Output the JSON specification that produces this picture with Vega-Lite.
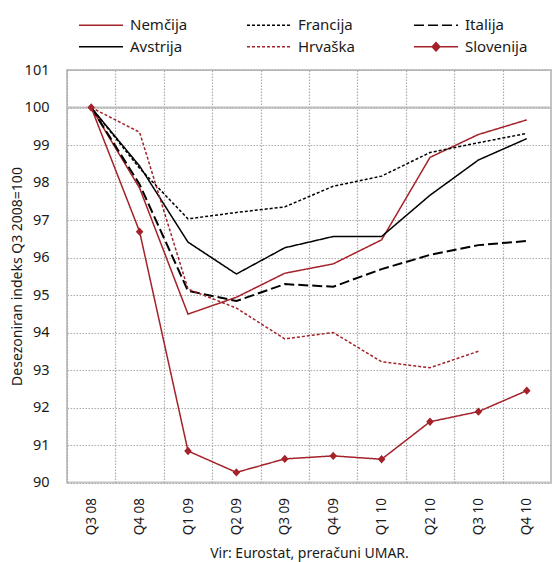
{
  "$schema": "https://vega.github.io/schema/vega-lite/v6.json",
  "width": 484,
  "height": 412.5,
  "autosize": {"type": "none"},
  "padding": {"left": 67, "top": 70, "right": 4, "bottom": 79.5},
  "background": "white",
  "config": {
    "font": "Noto Sans",
    "view": {"stroke": "#c3c3c3", "strokeWidth": 2},
    "axis": {
      "grid": true,
      "gridColor": "#ababab",
      "gridDash": [1.5, 1.5],
      "gridWidth": 1.2,
      "gridOpacity": 1,
      "domain": false,
      "ticks": false,
      "labelColor": "#1a1a1a",
      "titleColor": "#1a1a1a",
      "titleFontWeight": "normal",
      "titleFontSize": 14
    },
    "axisX": {
      "labelAngle": -90,
      "labelPadding": 15,
      "tickOffset": -24.2,
      "labelOffset": 24.2,
      "labelFontSize": 13.5,
      "titleX": 242,
      "titleY": 75,
      "titleBaseline": "alphabetic"
    },
    "axisY": {
      "labelOverlap": false,
      "labelPadding": 18,
      "labelFontSize": 14.5,
      "titleX": -50,
      "titleY": 206,
      "titleAlign": "center",
      "titleBaseline": "middle",
      "titleAngle": -90
    }
  },
  "data": {
    "values": [
      {"q": "Q3 08", "series": "Nemčija", "v": 100},
      {"q": "Q4 08", "series": "Nemčija", "v": 97.85},
      {"q": "Q1 09", "series": "Nemčija", "v": 94.49},
      {"q": "Q2 09", "series": "Nemčija", "v": 94.94},
      {"q": "Q3 09", "series": "Nemčija", "v": 95.58},
      {"q": "Q4 09", "series": "Nemčija", "v": 95.83},
      {"q": "Q1 10", "series": "Nemčija", "v": 96.47},
      {"q": "Q2 10", "series": "Nemčija", "v": 98.67},
      {"q": "Q3 10", "series": "Nemčija", "v": 99.28},
      {"q": "Q4 10", "series": "Nemčija", "v": 99.67},
      {"q": "Q3 08", "series": "Francija", "v": 100},
      {"q": "Q4 08", "series": "Francija", "v": 98.38},
      {"q": "Q1 09", "series": "Francija", "v": 97.03},
      {"q": "Q2 09", "series": "Francija", "v": 97.2},
      {"q": "Q3 09", "series": "Francija", "v": 97.35},
      {"q": "Q4 09", "series": "Francija", "v": 97.9},
      {"q": "Q1 10", "series": "Francija", "v": 98.17},
      {"q": "Q2 10", "series": "Francija", "v": 98.8},
      {"q": "Q3 10", "series": "Francija", "v": 99.06},
      {"q": "Q4 10", "series": "Francija", "v": 99.31},
      {"q": "Q3 08", "series": "Italija", "v": 100},
      {"q": "Q4 08", "series": "Italija", "v": 97.95},
      {"q": "Q1 09", "series": "Italija", "v": 95.11},
      {"q": "Q2 09", "series": "Italija", "v": 94.84},
      {"q": "Q3 09", "series": "Italija", "v": 95.29},
      {"q": "Q4 09", "series": "Italija", "v": 95.22},
      {"q": "Q1 10", "series": "Italija", "v": 95.69},
      {"q": "Q2 10", "series": "Italija", "v": 96.07},
      {"q": "Q3 10", "series": "Italija", "v": 96.33},
      {"q": "Q4 10", "series": "Italija", "v": 96.44},
      {"q": "Q3 08", "series": "Avstrija", "v": 100},
      {"q": "Q4 08", "series": "Avstrija", "v": 98.44},
      {"q": "Q1 09", "series": "Avstrija", "v": 96.41},
      {"q": "Q2 09", "series": "Avstrija", "v": 95.56},
      {"q": "Q3 09", "series": "Avstrija", "v": 96.26},
      {"q": "Q4 09", "series": "Avstrija", "v": 96.56},
      {"q": "Q1 10", "series": "Avstrija", "v": 96.56},
      {"q": "Q2 10", "series": "Avstrija", "v": 97.66},
      {"q": "Q3 10", "series": "Avstrija", "v": 98.6},
      {"q": "Q4 10", "series": "Avstrija", "v": 99.17},
      {"q": "Q3 08", "series": "Hrvaška", "v": 100},
      {"q": "Q4 08", "series": "Hrvaška", "v": 99.34},
      {"q": "Q1 09", "series": "Hrvaška", "v": 95.16},
      {"q": "Q2 09", "series": "Hrvaška", "v": 94.65},
      {"q": "Q3 09", "series": "Hrvaška", "v": 93.83},
      {"q": "Q4 09", "series": "Hrvaška", "v": 94.0},
      {"q": "Q1 10", "series": "Hrvaška", "v": 93.22},
      {"q": "Q2 10", "series": "Hrvaška", "v": 93.06},
      {"q": "Q3 10", "series": "Hrvaška", "v": 93.5},
      {"q": "Q3 08", "series": "Slovenija", "v": 100},
      {"q": "Q4 08", "series": "Slovenija", "v": 96.69},
      {"q": "Q1 09", "series": "Slovenija", "v": 90.84},
      {"q": "Q2 09", "series": "Slovenija", "v": 90.27},
      {"q": "Q3 09", "series": "Slovenija", "v": 90.63},
      {"q": "Q4 09", "series": "Slovenija", "v": 90.71},
      {"q": "Q1 10", "series": "Slovenija", "v": 90.62},
      {"q": "Q2 10", "series": "Slovenija", "v": 91.62},
      {"q": "Q3 10", "series": "Slovenija", "v": 91.89},
      {"q": "Q4 10", "series": "Slovenija", "v": 92.45}
    ]
  },
  "layer": [
    {
      "data": {"values": [{"ref": 100}]},
      "mark": {"type": "rule", "color": "#bdbdbd", "strokeWidth": 2.2},
      "encoding": {
        "y": {
          "field": "ref",
          "type": "quantitative",
          "axis": {
            "title": "Desezoniran indeks Q3 2008=100",
            "values": [90, 91, 92, 93, 94, 95, 96, 97, 98, 99, 100, 101],
            "grid": true,
            "labelOverlap": false
          }
        }
      }
    },
    {
      "mark": {"type": "line"},
      "encoding": {
        "x": {
          "field": "q",
          "type": "ordinal",
          "sort": ["Q3 08", "Q4 08", "Q1 09", "Q2 09", "Q3 09", "Q4 09", "Q1 10", "Q2 10", "Q3 10", "Q4 10"],
          "scale": {"type": "point", "padding": 0.5},
          "axis": {
            "title": "Vir: Eurostat, preračuni UMAR.",
            "grid": true
          }
        },
        "y": {
          "field": "v",
          "type": "quantitative",
          "scale": {"domain": [90, 101], "nice": false, "zero": false},
          "axis": {
            "title": "Desezoniran indeks Q3 2008=100",
            "values": [90, 91, 92, 93, 94, 95, 96, 97, 98, 99, 100, 101],
            "grid": true,
            "labelOverlap": false
          }
        },
        "color": {
          "field": "series",
          "type": "nominal",
          "scale": {
            "domain": ["Nemčija", "Francija", "Italija", "Avstrija", "Hrvaška", "Slovenija"],
            "range": ["#a4222a", "#000000", "#000000", "#000000", "#a4222a", "#a4222a"]
          },
          "legend": {
            "orient": "none",
            "direction": "horizontal",
            "legendX": 23,
            "legendY": -55.75,
            "columns": 3,
            "title": null,
            "padding": 0,
            "symbolSize": 400,
            "symbolStrokeWidth": 1.5,
            "labelOffset": 18,
            "labelFontSize": 15,
            "labelColor": "#1a1a1a",
            "rowPadding": 2.5,
            "columnPadding": 56
          }
        },
        "strokeDash": {
          "field": "series",
          "type": "nominal",
          "scale": {
            "domain": ["Nemčija", "Francija", "Italija", "Avstrija", "Hrvaška", "Slovenija"],
            "range": [[1, 0], [3, 2], [10, 4], [1, 0], [3, 2], [1, 0]]
          }
        },
        "strokeWidth": {
          "condition": {"test": "datum.series === 'Italija'", "value": 2},
          "value": 1.5
        }
      }
    },
    {
      "transform": [{"filter": "datum.series === 'Slovenija'"}],
      "mark": {"type": "point", "filled": true, "size": 400, "color": "#a4222a", "opacity": 1},
      "encoding": {
        "x": {
          "field": "q",
          "type": "ordinal",
          "sort": ["Q3 08", "Q4 08", "Q1 09", "Q2 09", "Q3 09", "Q4 09", "Q1 10", "Q2 10", "Q3 10", "Q4 10"],
          "axis": {
            "title": "Vir: Eurostat, preračuni UMAR.",
            "grid": true
          }
        },
        "y": {
          "field": "v",
          "type": "quantitative",
          "axis": {
            "title": "Desezoniran indeks Q3 2008=100",
            "values": [90, 91, 92, 93, 94, 95, 96, 97, 98, 99, 100, 101],
            "grid": true,
            "labelOverlap": false
          }
        },
        "shape": {
          "field": "series",
          "type": "nominal",
          "scale": {
            "domain": ["Nemčija", "Francija", "Italija", "Avstrija", "Hrvaška", "Slovenija"],
            "range": ["M-2.2,0H2.2", "M-2.2,0H2.2", "M-2.2,0H2.2", "M-2.2,0H2.2", "M-2.2,0H2.2", "M-2.2,0H2.2M0,-0.42L0.38,0L0,0.42L-0.38,0Z"]
          }
        }
      }
    }
  ]
}
